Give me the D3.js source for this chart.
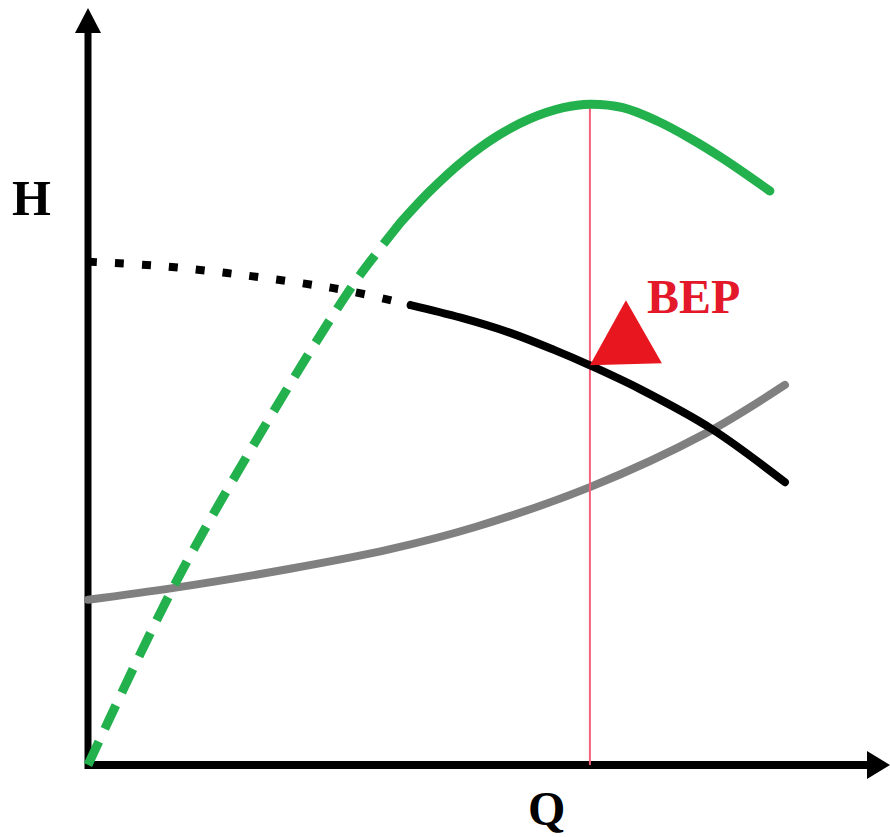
<!DOCTYPE html>
<html>
<head>
<meta charset="utf-8">
<script src="https://cdn.jsdelivr.net/npm/d3@7"></script>
<style>
  html, body { margin: 0; padding: 0; background: #fff; }
  svg { display: block; }
  .lbl { font-family: "Liberation Serif", "DejaVu Serif", serif; font-weight: bold; }
</style>
</head>
<body>
<svg id="chart" width="890" height="837"></svg>
<script>
// efficiency curve (green), dashed rising part then solid
const effDashQ = [0, 11.9, 24, 36.5, 40.3, 43.5];
const effDashH = [0, 25.4, 47.3, 67.9, 73.2, 77.4];
const effSolidQ = [43.5, 47.7, 52.3, 57, 61.6, 66.3, 70, 74.6, 79.4, 84, 88.6, 95.1];
const effSolidH = [77.4, 82.0, 86.3, 89.8, 92.3, 93.9, 94.4, 93.9, 92.0, 89.5, 86.6, 82.0];

// pump head curve (black), dotted then solid
const headDotQ = [0, 10, 20, 30, 37, 45];
const headDotH = [71.9, 71.3, 70.2, 68.8, 67.6, 65.7];
const headSolidQ = [45, 52, 59, 65, 70, 77, 87, 97.2];
const headSolidH = [65.7, 63.9, 61.7, 59.3, 57.1, 53.7, 48.0, 40.4];

// system curve (grey)
const sysQ = [0, 12, 28, 42, 54, 70, 86, 97.2];
const sysH = [23.6, 25.3, 28.0, 30.8, 34.0, 39.7, 47.3, 54.3];

// best efficiency point
const bepQ = 70;
const bepH = 57.1;
const bepTop = 95;

const axisLabels = { x: "Q", y: "H", bep: "BEP" };

const svg = d3.select("#chart");

const x = d3.scaleLinear().domain([0, 100]).range([88, 805]);
const y = d3.scaleLinear().domain([0, 100]).range([765, 65]);

const zip = (qs, hs) => qs.map((q, i) => ({ q: q, h: hs[i] }));

const line = d3
  .line()
  .x((d) => x(d.q))
  .y((d) => y(d.h))
  .curve(d3.curveCatmullRom.alpha(0.5));

const drawCurve = (pts, color, dash, cap, w) => {
  svg
    .append("path")
    .datum(pts)
    .attr("d", line)
    .attr("fill", "none")
    .attr("stroke", color)
    .attr("stroke-width", w || 8)
    .attr("stroke-linecap", cap)
    .attr("stroke-dasharray", dash);
};

// axes with arrows
const x0 = x(0), y0 = y(0);
svg.append("line")
  .attr("x1", x0).attr("y1", y0 + 4)
  .attr("x2", x0).attr("y2", 25)
  .attr("stroke", "#000").attr("stroke-width", 7);
svg.append("path")
  .attr("d", `M${x0 - 13},33 L${x0},8 L${x0 + 13},33 Z`)
  .attr("fill", "#000");
svg.append("line")
  .attr("x1", x0 - 3).attr("y1", y0)
  .attr("x2", 872).attr("y2", y0)
  .attr("stroke", "#000").attr("stroke-width", 8);
svg.append("path")
  .attr("d", `M867,${y0 - 14} L890,${y0} L867,${y0 + 14} Z`)
  .attr("fill", "#000");

// system curve
drawCurve(zip(sysQ, sysH), "#808080", null, "round");

// BEP vertical line
svg.append("line")
  .attr("x1", x(bepQ)).attr("x2", x(bepQ))
  .attr("y1", y(bepTop)).attr("y2", y(0))
  .attr("stroke", "#f2607a").attr("stroke-width", 2);

// efficiency
drawCurve(zip(effDashQ, effDashH), "#22b14c", "26,14", "butt", 9);
drawCurve(zip(effSolidQ, effSolidH), "#22b14c", null, "round", 9);

// head
drawCurve(zip(headDotQ, headDotH), "#000", "9,18", "butt");
drawCurve(zip(headSolidQ, headSolidH), "#000", null, "round");

// BEP marker
const bx = x(bepQ), by = y(bepH);
svg.append("path")
  .attr("d", `M${bx},${by} L${bx + 72},${by - 2} L${bx + 36},${by - 65} Z`)
  .attr("fill", "#e8161e");

svg.append("text")
  .attr("class", "lbl")
  .attr("x", bx + 57).attr("y", by - 52)
  .attr("font-size", 48)
  .attr("fill", "#e3182a")
  .text(axisLabels.bep);

svg.append("text")
  .attr("class", "lbl")
  .attr("x", 12).attr("y", 215)
  .attr("font-size", 50)
  .attr("fill", "#000")
  .text(axisLabels.y);

svg.append("text")
  .attr("class", "lbl")
  .attr("x", 528).attr("y", 825)
  .attr("font-size", 48)
  .attr("fill", "#000")
  .text(axisLabels.x);
</script>
</body>
</html>
